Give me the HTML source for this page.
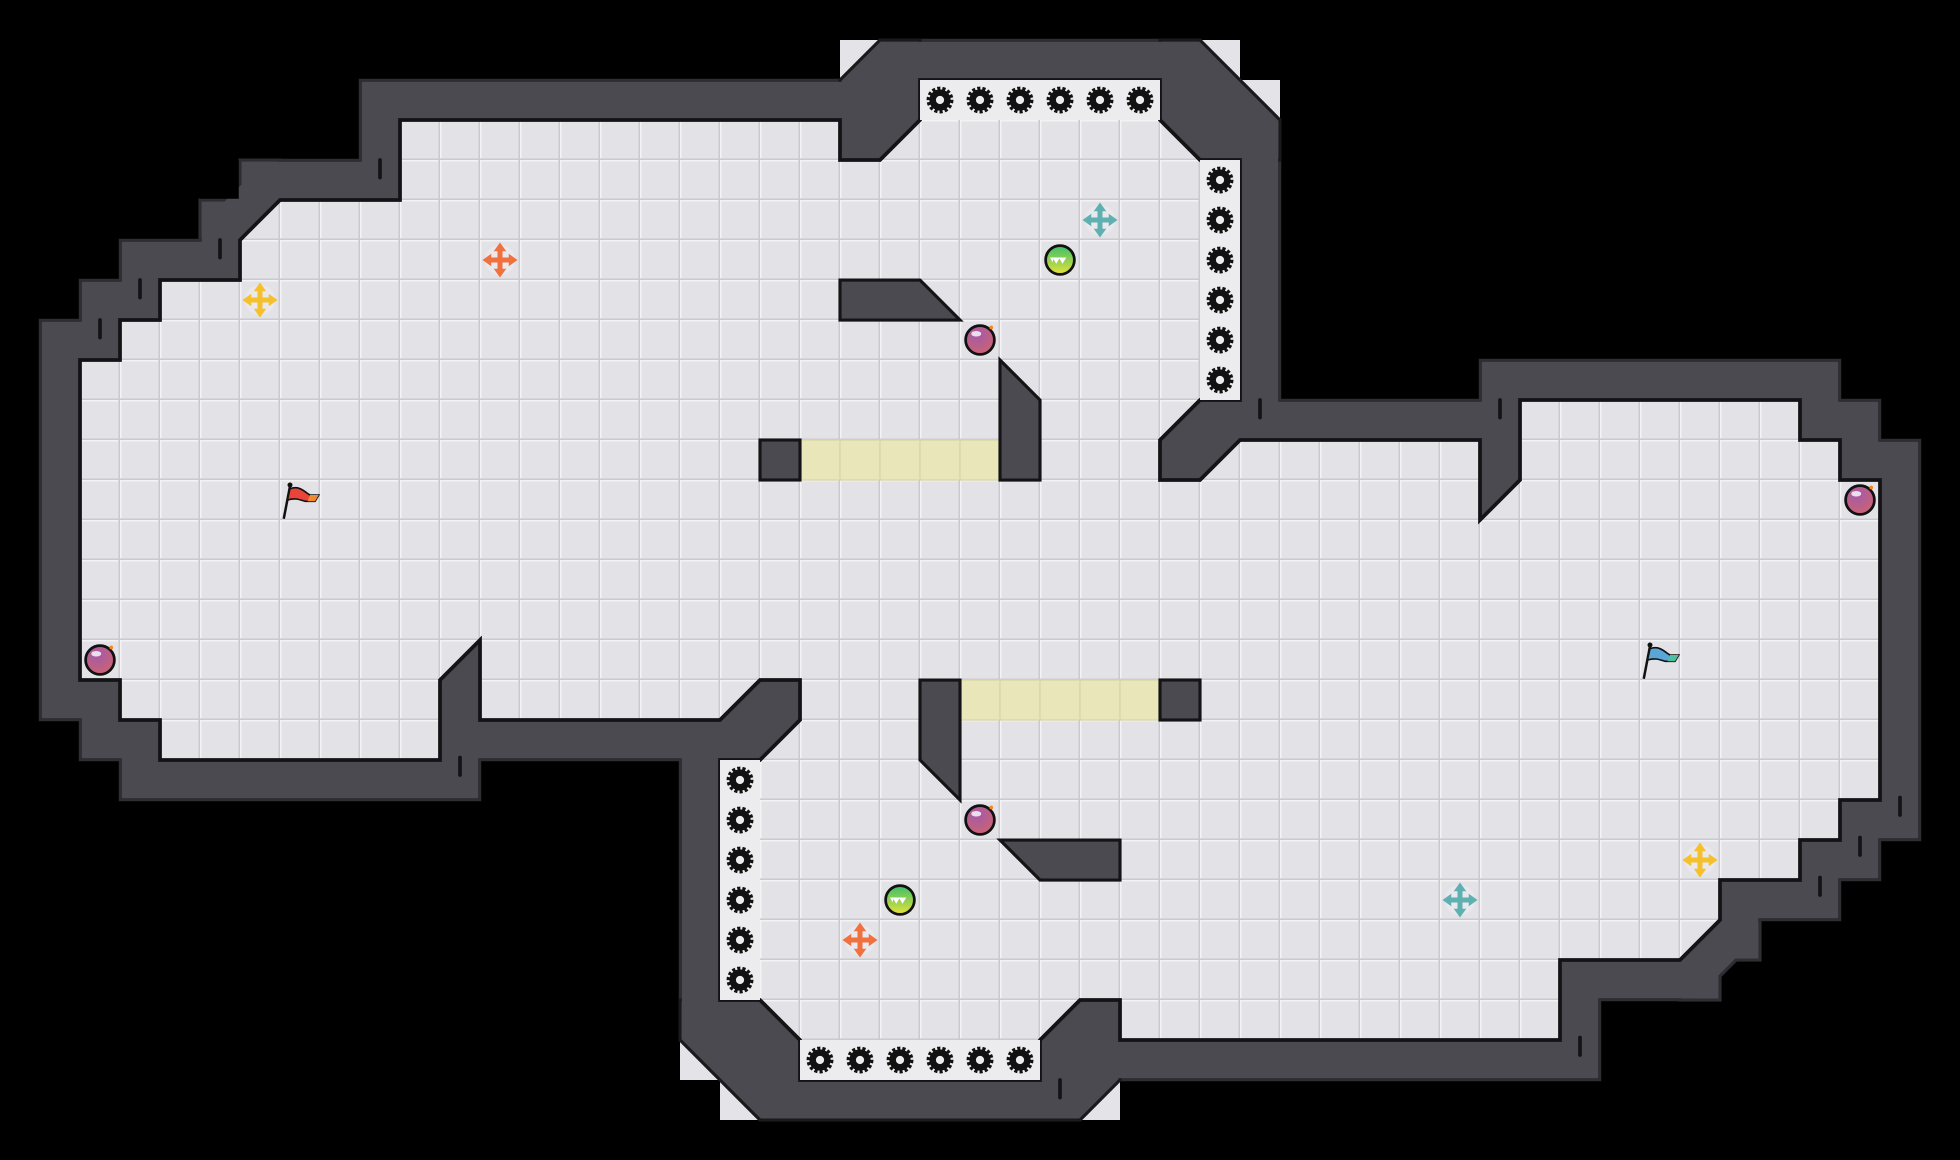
<!DOCTYPE html>
<html><head><meta charset="utf-8"><style>
html,body{margin:0;padding:0;background:#000;}
svg{display:block;}
</style></head><body>
<svg width="1960" height="1160" viewBox="0 0 1568 928" xmlns="http://www.w3.org/2000/svg">
<defs>
<polygon id="fl" points="320,96 672,96 672,128 704,128 736,96 736,64 928,64 928,96 960,128 992,128 992,320 960,320 928,352 928,384 960,384 992,352 1184,352 1184,416 1216,384 1216,320 1440,320 1440,352 1472,352 1472,384 1504,384 1504,640 1472,640 1472,672 1440,672 1440,704 1376,704 1376,736 1344,768 1248,768 1248,832 896,832 896,800 864,800 832,832 832,864 640,864 640,832 608,800 576,800 576,608 608,608 640,576 640,544 608,544 576,576 384,576 384,512 352,544 352,608 128,608 128,576 96,576 96,544 64,544 64,288 96,288 96,256 128,256 128,224 192,224 192,192 224,160 320,160"/>
<pattern id="grid" x="0" y="0" width="32" height="32" patternUnits="userSpaceOnUse">
<rect width="32" height="32" fill="#e2e2e7"/>
<rect x="0" y="0" width="32" height="1.2" fill="#f3f3f6"/>
<rect x="0" y="0" width="1.2" height="32" fill="#f3f3f6"/>
<rect x="0" y="30.8" width="32" height="1.2" fill="#c9c9cf"/>
<rect x="30.8" y="0" width="1.2" height="32" fill="#c9c9cf"/>
</pattern>
<radialGradient id="bomb" cx="0.4" cy="0.3" r="0.8">
<stop offset="0" stop-color="#a35aa8"/><stop offset="1" stop-color="#d0646e"/>
</radialGradient>
<linearGradient id="greenb" x1="0" y1="0" x2="0" y2="1">
<stop offset="0" stop-color="#3cbf6a"/><stop offset="1" stop-color="#e6e23a"/>
</linearGradient>
<g id="gear">
<circle r="9" fill="none" stroke="#111" stroke-width="3.5" stroke-dasharray="2.4 1.6"/>
<circle r="8.5" fill="#111"/>
<circle r="3.3" fill="#ececef"/>
</g>
<g id="bombi">
<circle r="11.5" fill="url(#bomb)" stroke="#111" stroke-width="2.2"/>
<ellipse cx="-3" cy="-5" rx="4" ry="2.2" fill="#fff" opacity="0.8"/>
<circle cx="9" cy="-10" r="1.5" fill="#f08a24"/>
</g>
<g id="greeni">
<circle r="11.5" fill="url(#greenb)" stroke="#111" stroke-width="2.2"/>
<path d="M-6,-2 L-3,3 L0,-2 Z M-1,-2 L2,3 L5,-2 Z M-8,-2 L-6,2 L-5,-2Z" fill="#fff"/>
</g>
<g id="crossbase">
<rect x="-9" y="-2" width="18" height="4"/>
<rect x="-2" y="-9" width="4" height="18"/>
<path d="M0,-14 L-5,-7 L5,-7Z M0,14 L-5,7 L5,7Z M-14,0 L-7,-5 L-7,5Z M14,0 L7,-5 L7,5Z"/>
</g>
</defs>
<rect width="1568" height="928" fill="#000"/>
<g fill="#e3e3e8">
<polygon points="672,32 704,32 672,64"/>
<polygon points="960,32 992,32 992,64"/>
<polygon points="992,64 1024,64 1024,96"/>
<polygon points="544,832 544,864 576,864"/>
<polygon points="576,864 576,896 608,896"/>
<polygon points="864,896 896,896 896,864"/>
</g>
<use href="#fl" fill="none" stroke="#2e2d32" stroke-width="66" stroke-linejoin="miter"/>
<g fill="#4b4a50" stroke="#1a1a1d" stroke-width="2.5">
<polygon points="672,64 704,32 736,32 736,96 704,128 672,128"/>
<polygon points="928,32 960,32 1024,96 1024,128 992,128 928,64"/>
<polygon points="544,800 544,832 608,896 864,896 896,864 896,800"/>
<polygon points="192,128 224,128 224,192 160,192 160,160 192,160" stroke="#2e2d32"/>
<polygon points="1344,736 1408,736 1408,768 1376,768 1376,800 1344,800" stroke="#2e2d32"/>
</g>
<use href="#fl" fill="none" stroke="#4b4a50" stroke-width="61" stroke-linejoin="miter"/>
<g fill="#4b4a50">
<polygon points="675,66 705,36 736,36 736,96 704,126 675,126"/>
<polygon points="928,36 959,36 1020,97 1020,128 992,128 928,64"/>
<polygon points="548,800 548,831 609,892 863,892 892,863 892,800"/>
<polygon points="195,131 224,131 224,192 163,192 163,163 195,163"/>
<polygon points="1344,736 1405,736 1405,765 1373,765 1373,797 1344,797"/>
</g>
<rect x="160" y="128" width="31" height="31" fill="#000"/>
<use href="#fl" fill="url(#grid)" stroke="#141416" stroke-width="3"/>
<g fill="#ececef">
<rect x="736" y="64" width="192" height="32"/>
<rect x="960" y="128" width="32" height="192"/>
<rect x="576" y="608" width="32" height="192"/>
<rect x="640" y="832" width="192" height="32"/>
</g>
<g fill="#e9e6b9" stroke="#d8d5a6" stroke-width="1">
<rect x="640" y="352" width="32" height="32"/><rect x="672" y="352" width="32" height="32"/><rect x="704" y="352" width="32" height="32"/><rect x="736" y="352" width="32" height="32"/><rect x="768" y="352" width="32" height="32"/>
<rect x="768" y="544" width="32" height="32"/><rect x="800" y="544" width="32" height="32"/><rect x="832" y="544" width="32" height="32"/><rect x="864" y="544" width="32" height="32"/><rect x="896" y="544" width="32" height="32"/>
</g>
<g fill="#4b4a50" stroke="#141416" stroke-width="2.5" stroke-linejoin="miter">
<polygon points="672,224 736,224 768,256 672,256"/>
<polygon points="800,288 832,320 832,384 800,384"/>
<rect x="608" y="352" width="32" height="32"/>
<polygon points="736,544 768,544 768,640 736,608"/>
<rect x="928" y="544" width="32" height="32"/>
<polygon points="800,672 896,672 896,704 832,704"/>
</g>
<g stroke="#141416" stroke-width="3" stroke-linecap="round">
<line x1="304" y1="128" x2="304" y2="142"/><line x1="176" y1="192" x2="176" y2="206"/>
<line x1="112" y1="224" x2="112" y2="238"/><line x1="80" y1="256" x2="80" y2="270"/>
<line x1="1008" y1="320" x2="1008" y2="334"/><line x1="1200" y1="320" x2="1200" y2="334"/>
<line x1="1520" y1="638" x2="1520" y2="652"/><line x1="1488" y1="670" x2="1488" y2="684"/>
<line x1="1456" y1="702" x2="1456" y2="716"/><line x1="1264" y1="830" x2="1264" y2="844"/>
<line x1="848" y1="864" x2="848" y2="878"/><line x1="368" y1="606" x2="368" y2="620"/>
</g>
<g>
<use href="#gear" x="752" y="80"/><use href="#gear" x="784" y="80"/><use href="#gear" x="816" y="80"/><use href="#gear" x="848" y="80"/><use href="#gear" x="880" y="80"/><use href="#gear" x="912" y="80"/>
<use href="#gear" x="976" y="144"/><use href="#gear" x="976" y="176"/><use href="#gear" x="976" y="208"/><use href="#gear" x="976" y="240"/><use href="#gear" x="976" y="272"/><use href="#gear" x="976" y="304"/>
<use href="#gear" x="592" y="624"/><use href="#gear" x="592" y="656"/><use href="#gear" x="592" y="688"/><use href="#gear" x="592" y="720"/><use href="#gear" x="592" y="752"/><use href="#gear" x="592" y="784"/>
<use href="#gear" x="656" y="848"/><use href="#gear" x="688" y="848"/><use href="#gear" x="720" y="848"/><use href="#gear" x="752" y="848"/><use href="#gear" x="784" y="848"/><use href="#gear" x="816" y="848"/>
</g>
<g fill="#ebebef" opacity="0.8">
<circle cx="400" cy="208" r="12"/><circle cx="688" cy="752" r="12"/><circle cx="208" cy="240" r="12"/>
<circle cx="1360" cy="688" r="12"/><circle cx="880" cy="176" r="12"/><circle cx="1168" cy="720" r="12"/>
</g>
<g fill="#f07040"><use href="#crossbase" x="400" y="208"/><use href="#crossbase" x="688" y="752"/></g>
<g fill="#f5c02a"><use href="#crossbase" x="208" y="240"/><use href="#crossbase" x="1360" y="688"/></g>
<g fill="#5fb0b0"><use href="#crossbase" x="880" y="176"/><use href="#crossbase" x="1168" y="720"/></g>
<use href="#greeni" x="848" y="208"/>
<use href="#greeni" x="720" y="720"/>
<use href="#bombi" x="784" y="272"/>
<use href="#bombi" x="80" y="528"/>
<use href="#bombi" x="1488" y="400"/>
<use href="#bombi" x="784" y="656"/>
<g transform="translate(240,400)">
<line x1="-13" y1="15" x2="-8" y2="-11" stroke="#111" stroke-width="2"/>
<circle cx="-8" cy="-12" r="2" fill="#111"/>
<path d="M-8,-9 C0,-12 4,-6 8,-4 L15,-4 L12,1 L4,1 C0,0 -3,-2 -10,0 Z" fill="#e8443a" stroke="#111" stroke-width="1.3"/>
<path d="M8,-4 L15,-4 L12,1 L6,1Z" fill="#f08a30"/>
</g>
<g transform="translate(1328,528)">
<line x1="-13" y1="15" x2="-8" y2="-11" stroke="#111" stroke-width="2"/>
<circle cx="-8" cy="-12" r="2" fill="#111"/>
<path d="M-8,-9 C0,-12 4,-6 8,-4 L15,-4 L12,1 L4,1 C0,0 -3,-2 -10,0 Z" fill="#5aa6d6" stroke="#111" stroke-width="1.3"/>
<path d="M8,-4 L15,-4 L12,1 L6,1Z" fill="#4cc0a0"/>
</g>
</svg>
</body></html>
